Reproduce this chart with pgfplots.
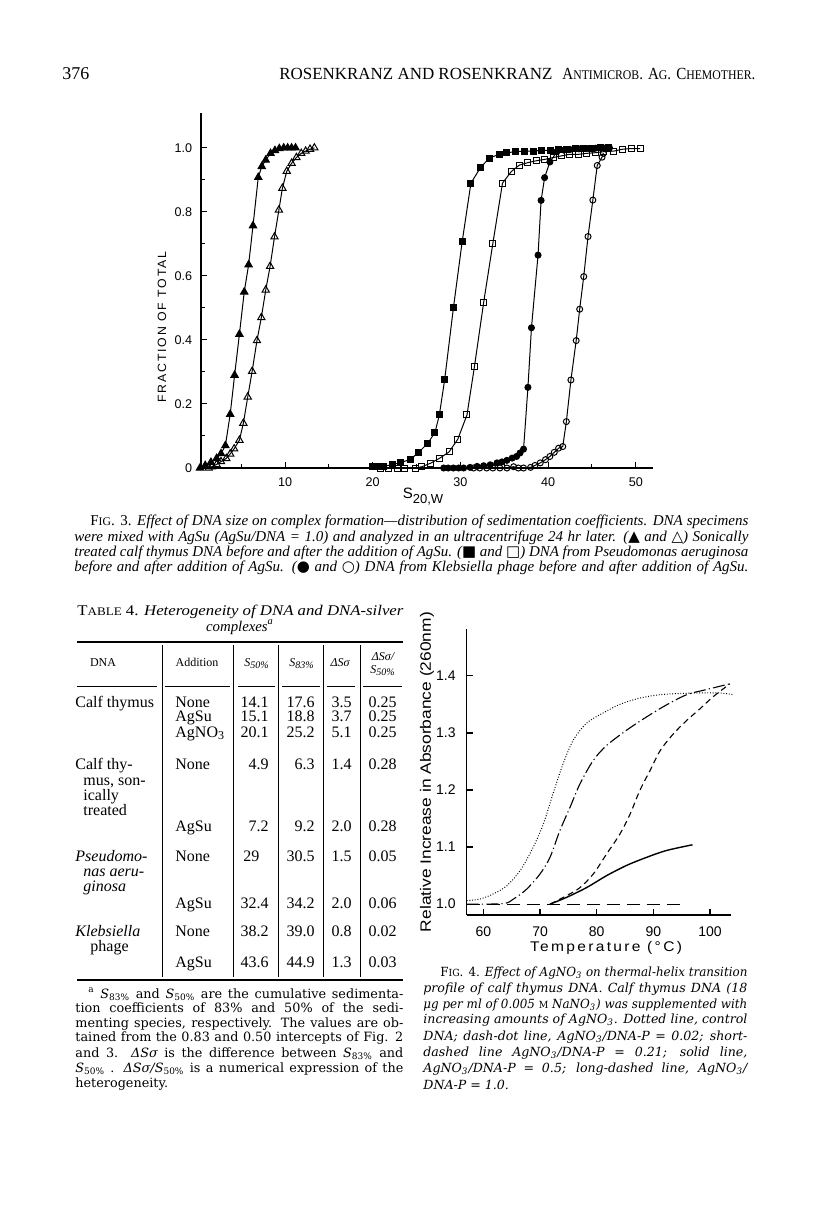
\documentclass[border=0pt]{standalone}
\usepackage{pgfplots}
\pgfplotsset{compat=1.18}
\usepackage{fontspec}
\setmainfont{Liberation Serif}
\newfontfamily\sans{Liberation Sans}
\newfontfamily\sym{DejaVu Sans}
\newfontfamily\dvs{DejaVu Serif}
\newcommand\fitw[2]{\resizebox{#1}{\height}{#2}}
\newcommand\jw[2]{\setbox0=\hbox{#2}\ifdim\wd0<#1\relax\makebox[#1][s]{#2}\else\resizebox{#1}{\height}{#2}\fi}
\newcommand\sm[1]{\scalebox{0.78}{#1}}
\newcommand\bodyf{\fontsize{8}{8}\selectfont}
\newcommand\notef{\dvs\fontsize{6.4}{6.4}\selectfont}
\newcommand\capf{\dvs\fontsize{6.3}{6.3}\selectfont\itshape}
\newcommand\capthree{\fontsize{7.5}{7.5}\selectfont\itshape}
\newcommand\hdf{\fontsize{6}{6}\selectfont}
\newcommand\TF[5]{\node[anchor=base west,inner sep=0pt,font=#4] at (#1,#2) {\jw{#3}{#5}};}
\newcommand\TS[5]{\node[anchor=base west,inner sep=0pt,font=#4] at (#1,#2) {\fitw{#3}{#5}};}
\newcommand\TN[4]{\node[anchor=base west,inner sep=0pt,font=#3] at (#1,#2) {#4};}
\newcommand\TE[4]{\node[anchor=base east,inner sep=0pt,font=#3] at (#1,#2) {#4};}
\newcommand\TC[4]{\node[anchor=base,inner sep=0pt,font=#3] at (#1,#2) {#4};}
\begin{document}
\begin{tikzpicture}
\begin{scope}[x=0.5pt,y=-0.5pt]
\path[use as bounding box] (0,0) rectangle (816,1225);
% header
\TN{62}{80}{\fontsize{9}{9}\selectfont}{376}
\TS{279}{80}{136.5pt}{\fontsize{8.5}{8.5}\selectfont}{ROSENKRANZ AND ROSENKRANZ}
\TS{562}{80}{96.5pt}{\fontsize{8.5}{8.5}\selectfont}{A\sm{NTIMICROB}. A\sm{G}. C\sm{HEMOTHER}.}
% fig 3 labels
\node[font=\sans\fontsize{7.5}{7.5}\selectfont] at (423,497) {S\raisebox{-2.5pt}{\fontsize{6.5}{6.5}\selectfont 20,W}};
\node[rotate=90,font=\sans\fontsize{6}{6}\selectfont] at (162,327) {\fitw{75.5pt}{\addfontfeatures{LetterSpace=15}FRACTION OF TOTAL}};
% fig 3 caption
\TF{90}{525.5}{329pt}{\capthree}{{\upshape F\sm{IG}. 3.} Effect of DNA size on complex formation—distribution of sedimentation coefficients. DNA specimens}
\TF{74}{541.5}{337pt}{\capthree}{were mixed with AgSu (AgSu/DNA = 1.0) and analyzed in an ultracentrifuge 24 hr later. ({\sym\upshape ▲} and {\sym\upshape △}) Sonically}
\TF{74}{556.5}{337pt}{\capthree}{treated calf thymus DNA before and after the addition of AgSu. ({\sym\upshape ■} and {\sym\upshape □}) DNA from Pseudomonas aeruginosa}
\TF{74}{571.5}{337pt}{\capthree}{before and after addition of AgSu. ({\sym\upshape ●} and {\sym\upshape ○}) DNA from Klebsiella phage before and after addition of AgSu.}
% table 4
\TS{77}{615}{163pt}{\fontsize{7.4}{7.4}\selectfont}{T\sm{ABLE} 4. {\itshape Heterogeneity of DNA and DNA-silver}}
\TC{240}{631}{\fontsize{7.4}{7.4}\selectfont\itshape}{complexes\textsuperscript{a}}
\draw[line width=0.9pt] (77,642) -- (403,642);
\draw[line width=0.9pt] (77,980) -- (403,980);
\foreach \a/\b in {77/157,165/230,238/275,282/320,327/355,363/402} \draw[line width=0.4pt] (\a,686) -- (\b,686);
\foreach \v in {162,233,278,323,360} \draw[line width=0.4pt] (\v,645) -- (\v,977);
\TC{103}{666}{\hdf}{DNA}
\TC{197}{666}{\hdf}{Addition}
\TC{257}{666}{\hdf\itshape}{S\textsubscript{50\%}}
\TC{302}{666}{\hdf\itshape}{S\textsubscript{83\%}}
\TC{340}{666}{\hdf\itshape}{ΔSσ}
\TC{383}{660}{\hdf\itshape}{ΔSσ/}
\TC{383}{673}{\hdf\itshape}{S\textsubscript{50\%}}
% rows
\TN{75}{707}{\bodyf}{Calf thymus}
\TN{175}{707}{\bodyf}{None}\TE{269}{707}{\bodyf}{14.1}\TE{315}{707}{\bodyf}{17.6}\TE{352}{707}{\bodyf}{3.5}\TE{397}{707}{\bodyf}{0.25}
\TN{175}{721}{\bodyf}{AgSu}\TE{269}{721}{\bodyf}{15.1}\TE{315}{721}{\bodyf}{18.8}\TE{352}{721}{\bodyf}{3.7}\TE{397}{721}{\bodyf}{0.25}
\TN{175}{737}{\bodyf}{AgNO\textsubscript{3}}\TE{269}{737}{\bodyf}{20.1}\TE{315}{737}{\bodyf}{25.2}\TE{352}{737}{\bodyf}{5.1}\TE{397}{737}{\bodyf}{0.25}
\TN{75}{769}{\bodyf}{Calf thy-}
\TN{83}{785}{\bodyf}{mus, son-}
\TN{83}{800}{\bodyf}{ically}
\TN{83}{815}{\bodyf}{treated}
\TN{175}{769}{\bodyf}{None}\TE{269}{769}{\bodyf}{4.9}\TE{315}{769}{\bodyf}{6.3}\TE{352}{769}{\bodyf}{1.4}\TE{397}{769}{\bodyf}{0.28}
\TN{175}{831}{\bodyf}{AgSu}\TE{269}{831}{\bodyf}{7.2}\TE{315}{831}{\bodyf}{9.2}\TE{352}{831}{\bodyf}{2.0}\TE{397}{831}{\bodyf}{0.28}
\TN{75}{861}{\bodyf\itshape}{Pseudomo-}
\TN{83}{876}{\bodyf\itshape}{nas aeru-}
\TN{83}{891}{\bodyf\itshape}{ginosa}
\TN{175}{861}{\bodyf}{None}\TN{243}{861}{\bodyf}{29}\TE{315}{861}{\bodyf}{30.5}\TE{352}{861}{\bodyf}{1.5}\TE{397}{861}{\bodyf}{0.05}
\TN{175}{908}{\bodyf}{AgSu}\TE{269}{908}{\bodyf}{32.4}\TE{315}{908}{\bodyf}{34.2}\TE{352}{908}{\bodyf}{2.0}\TE{397}{908}{\bodyf}{0.06}
\TN{75}{936}{\bodyf\itshape}{Klebsiella}
\TN{90}{951}{\bodyf}{phage}
\TN{175}{936}{\bodyf}{None}\TE{269}{936}{\bodyf}{38.2}\TE{315}{936}{\bodyf}{39.0}\TE{352}{936}{\bodyf}{0.8}\TE{397}{936}{\bodyf}{0.02}
\TN{175}{967}{\bodyf}{AgSu}\TE{269}{967}{\bodyf}{43.6}\TE{315}{967}{\bodyf}{44.9}\TE{352}{967}{\bodyf}{1.3}\TE{397}{967}{\bodyf}{0.03}
% footnote
\TF{88}{998}{157.5pt}{\notef}{\textsuperscript{a} {\itshape S}\textsubscript{83\%} and {\itshape S}\textsubscript{50\%} are the cumulative sedimenta-}
\TF{75}{1012.5}{164pt}{\notef}{tion coefficients of 83\% and 50\% of the sedi-}
\TF{75}{1027}{164pt}{\notef}{menting species, respectively. The values are ob-}
\TF{75}{1041.5}{164pt}{\notef}{tained from the 0.83 and 0.50 intercepts of Fig. 2}
\TF{75}{1057}{164pt}{\notef}{and 3. {\itshape ΔSσ} is the difference between {\itshape S}\textsubscript{83\%} and}
\TF{75}{1072}{164pt}{\notef}{{\itshape S}\textsubscript{50\%} . {\itshape ΔSσ/S}\textsubscript{50\%} is a numerical expression of the}
\TN{75}{1087}{\notef}{heterogeneity.}
% fig 4 labels
\node[rotate=90,font=\sans\fontsize{7.5}{7.5}\selectfont] at (427,772) {\fitw{160pt}{Relative Increase in Absorbance (260nm)}};
\node[font=\sans\fontsize{7}{7}\selectfont] at (606,948) {\fitw{76pt}{\addfontfeatures{LetterSpace=15}Temperature (°C)}};
% fig 4 caption
\TF{440}{976}{153.5pt}{\capf}{{\upshape F\sm{IG}. 4.} Effect of AgNO\textsubscript{3} on thermal-helix transition}
\TF{423}{992.5}{162pt}{\capf}{profile of calf thymus DNA. Calf thymus DNA (18}
\TF{423}{1008}{162pt}{\capf}{μg per ml of 0.005 {\upshape\sm{M}} NaNO\textsubscript{3}) was supplemented with}
\TF{423}{1023.5}{162pt}{\capf}{increasing amounts of AgNO\textsubscript{3}. Dotted line, control}
\TF{423}{1040}{162pt}{\capf}{DNA; dash-dot line, AgNO\textsubscript{3}/DNA-P = 0.02; short-}
\TF{423}{1056}{162pt}{\capf}{dashed line AgNO\textsubscript{3}/DNA-P = 0.21; solid line,}
\TF{423}{1072.5}{162pt}{\capf}{AgNO\textsubscript{3}/DNA-P = 0.5; long-dashed line, AgNO\textsubscript{3}/}
\TN{423}{1089}{\capf}{DNA-P = 1.0.}
\end{scope}

% ---------------- Fig. 3 ----------------
\begin{axis}[
  at={(100.5pt,-234pt)}, anchor=south west, scale only axis,
  width=226pt, height=177.5pt,
  xmin=0.42, xmax=51.96, ymin=0, ymax=1.109,
  axis lines=left, axis line style={-, line width=0.6pt},
  xtick={10,20,30,40,50}, xticklabels={10,20,30,40,50},
  minor xtick={5,15,25,35,45},
  ytick={0,0.2,0.4,0.6,0.8,1.0}, yticklabels={0,0.2,0.4,0.6,0.8,1.0},
  minor ytick={0.1,0.3,0.5,0.7,0.9},
  tick align=inside, major tick length=3pt, minor tick length=2pt,
  tick style={black, line width=0.5pt},
  ticklabel style={font=\sans\fontsize{6.3}{6.3}\selectfont},
  yticklabel style={xshift=-0.9pt},
  xticklabel style={yshift=-1.5pt},
  clip=false,
  every axis plot/.append style={black, line width=0.5pt, mark options={solid, line width=0.45pt}},
]
\addplot[mark=triangle*, mark size=2.1pt, mark options={fill=black}] table {
0.3 0.0
0.9 0.008
1.55 0.018
2.2 0.03
2.7 0.045
3.2 0.07
3.75 0.168
4.25 0.29
4.8 0.418
5.35 0.55
5.85 0.635
6.35 0.757
6.95 0.908
7.35 0.942
7.8 0.962
8.35 0.983
8.85 0.992
9.35 0.998
9.85 1.0
10.3 1.0
10.75 1.0
11.2 1.0
};
\addplot[mark=triangle, mark size=2.1pt, mark options={fill=white}] table {
1.3 0.0
1.65 0.004
2.2 0.011
2.7 0.02
3.3 0.03
3.75 0.044
4.2 0.06
4.8 0.087
5.25 0.14
5.75 0.222
6.25 0.302
6.8 0.398
7.3 0.47
7.8 0.556
8.3 0.63
8.8 0.722
9.3 0.806
9.7 0.874
10.2 0.927
10.75 0.952
11.3 0.97
11.85 0.983
12.35 0.99
12.85 0.996
13.35 1.0
};
\addplot[mark=square*, mark size=1.5pt, mark options={fill=black}] table {
20.0 0.004
20.5 0.004
21.25 0.006
22.2 0.01
23.2 0.017
24.3 0.027
25.2 0.048
26.27 0.077
27.1 0.111
27.6 0.166
28.2 0.275
29.2 0.5
30.2 0.707
31.2 0.89
32.3 0.939
33.3 0.968
34.4 0.98
35.3 0.985
36.3 0.988
37.3 0.99
38.3 0.99
39.2 0.992
40.25 0.992
41.2 0.994
42.15 0.996
43.1 0.997
44.05 0.998
45.0 0.999
46.0 1.0
46.9 1.0
};
\addplot[mark=square, mark size=1.5pt, mark options={fill=white}] table {
20.9 0.0
21.8 0.0
22.8 0.0
23.6 0.0
24.9 0.0
25.6 0.004
26.6 0.015
27.6 0.03
28.7 0.05
29.7 0.09
30.75 0.166
31.6 0.317
32.65 0.517
33.7 0.702
34.8 0.89
35.8 0.926
36.7 0.946
37.7 0.954
38.7 0.96
39.6 0.964
40.6 0.97
41.5 0.975
42.45 0.98
43.5 0.98
44.4 0.983
45.4 0.985
46.3 0.988
47.5 0.99
48.5 0.996
49.5 0.998
50.5 0.998
};
\addplot[mark=*, mark size=1.5pt, mark options={fill=black}] table {
28.1 0.0
28.6 0.0
29.2 0.0
29.8 0.0
30.37 0.0
31.1 0.002
31.9 0.005
32.65 0.007
33.4 0.01
34.17 0.016
34.74 0.019
35.3 0.024
35.9 0.031
36.4 0.036
36.8 0.047
37.2 0.059
37.7 0.252
38.1 0.438
38.85 0.665
39.2 0.836
39.6 0.907
40.2 0.956
41.0 0.988
41.8 0.993
42.5 0.995
43.5 0.997
44.4 0.998
45.4 0.999
46.3 1.0
47.0 1.0
};
\addplot[mark=o, mark size=1.5pt, mark options={fill=white}] table {
31.5 0.0
32.2 0.0
33.0 0.0
33.7 0.0
34.5 0.0
35.3 0.0
36.07 0.004
36.6 0.0
37.2 0.0
38.0 0.002
38.5 0.008
39.1 0.016
39.7 0.026
40.2 0.036
40.7 0.049
41.2 0.062
41.67 0.067
42.08 0.145
42.6 0.275
43.2 0.398
43.6 0.496
44.06 0.598
44.55 0.723
45.1 0.837
45.6 0.945
46.15 0.971
46.3 0.983
};
\end{axis}

% ---------------- Fig. 4 ----------------
\begin{axis}[
  at={(233.35pt,-457.5pt)}, anchor=south west, scale only axis,
  width=132.15pt, height=143pt,
  xmin=57.05, xmax=103.7, ymin=0.981, ymax=1.482,
  axis lines=left, axis line style={-, line width=0.7pt},
  xtick={60,70,80,90,100}, xticklabels={60,70,80,90,100},
  ytick={1.0,1.1,1.2,1.3,1.4}, yticklabels={1.0,1.1,1.2,1.3,1.4},
  tick align=inside, major tick length=3pt,
  tick style={black, line width=0.6pt},
  ticklabel style={font=\sans\fontsize{7}{7}\selectfont},
  yticklabel style={xshift=-2pt},
  xticklabel style={yshift=-2.5pt},
  clip=false,
  every axis plot/.append style={black, no marks},
]
\addplot[line width=0.5pt, dash pattern=on 0.45pt off 0.9pt, smooth, tension=0.5] table {
57.05 1.006
59.4 1.009
61.75 1.018
64.1 1.032
66.5 1.059
68.8 1.10
70.6 1.141
72.3 1.194
74.1 1.247
75.9 1.288
78.2 1.317
80.6 1.332
84.1 1.35
87.6 1.361
91.2 1.367
94.7 1.369
98.2 1.37
101.8 1.37
104.0 1.367
};
\addplot[line width=0.55pt, dash pattern=on 6pt off 1.6pt on 0.6pt off 1.6pt, smooth, tension=0.5] table {
57.05 1.0
63.5 1.001
65.3 1.009
67.6 1.026
70.0 1.053
71.75 1.082
73.5 1.129
75.3 1.17
77.05 1.211
79.4 1.252
81.75 1.278
85.3 1.305
88.8 1.328
92.3 1.349
95.9 1.367
99.4 1.376
103.5 1.386
};
\addplot[line width=0.55pt, dash pattern=on 3pt off 2pt, smooth, tension=0.5] table {
71.75 1.0
74.7 1.015
77.05 1.029
79.4 1.053
81.75 1.088
84.1 1.123
85.9 1.158
87.6 1.199
89.4 1.234
91.2 1.269
93.5 1.298
95.9 1.322
98.2 1.342
100.5 1.363
103.5 1.386
};
\addplot[line width=0.7pt, solid, smooth, tension=0.5] table {
71.75 1.0
74.7 1.012
78.2 1.029
81.75 1.05
85.3 1.068
88.8 1.082
92.3 1.094
96.9 1.104
};
\addplot[line width=0.55pt, dash pattern=on 6.5pt off 3.5pt] table {
57.05 1.0
95.3 1.0
};
\end{axis}
\end{tikzpicture}
\end{document}
